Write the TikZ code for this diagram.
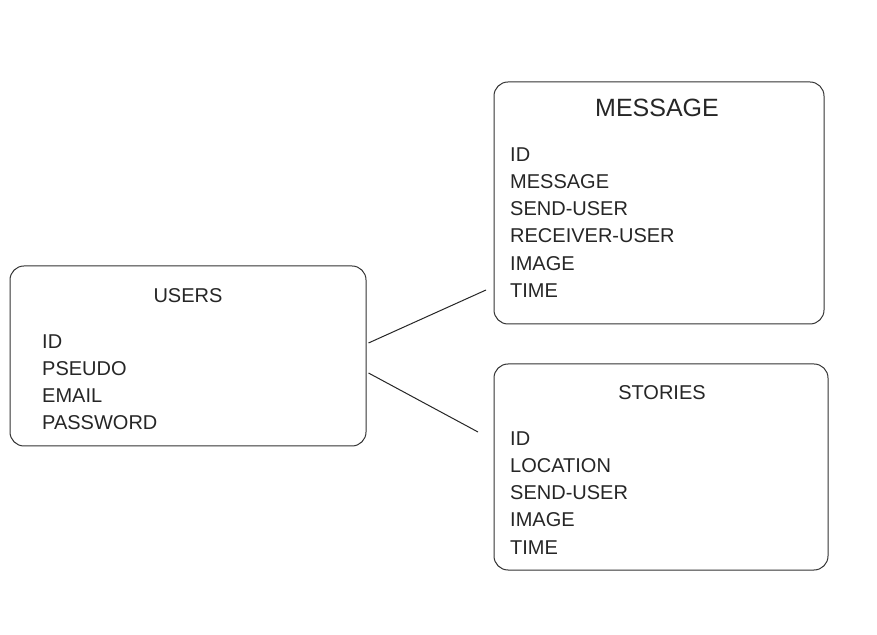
\documentclass[tikz,border=0pt]{standalone}
\usepackage{fontspec}
\setmainfont{Liberation Sans}
\begin{document}
\begin{tikzpicture}[x=1pt,y=1pt,
  entity/.style={draw=black!80, line width=1pt, rounded corners=14pt, fill=white},
  field/.style={anchor=west, inner sep=0pt, font=\fontsize{20}{20}\selectfont, text=black!85},
  title/.style={anchor=center, inner sep=0pt, font=\fontsize{20}{20}\selectfont, text=black!85},
  link/.style={draw=black!85, line width=1pt}]
\useasboundingbox (0,0) rectangle (877,634);
\fill[white] (0,0) rectangle (877,634);
% boxes
\node[entity, minimum width=356pt, minimum height=180pt] (users) at (188,278) {};
\node[entity, minimum width=330pt, minimum height=242pt] (message) at (659,431) {};
\node[entity, minimum width=334pt, minimum height=206pt] (stories) at (661,167) {};
% users
\node[title] (ut) at (188,338) {USERS};
\node[field] (u1) at (42,292) {ID};
\node[field] (u2) at (42,265) {PSEUDO};
\node[field] (u3) at (42,238) {EMAIL};
\node[field] (u4) at (42,211) {PASSWORD};
% message
\node[title, font=\fontsize{25}{25}\selectfont] (mt) at (657,526) {MESSAGE};
\node[field] (m1) at (510,479) {ID};
\node[field] (m2) at (510,452) {MESSAGE};
\node[field] (m3) at (510,425) {SEND-USER};
\node[field] (m4) at (510,398) {RECEIVER-USER};
\node[field] (m5) at (510,370) {IMAGE};
\node[field] (m6) at (510,343) {TIME};
% stories
\node[title] (st) at (662,241) {STORIES};
\node[field] (s1) at (510,195) {ID};
\node[field] (s2) at (510,168) {LOCATION};
\node[field] (s3) at (510,141) {SEND-USER};
\node[field] (s4) at (510,114) {IMAGE};
\node[field] (s5) at (510,86) {TIME};
% connectors
\coordinate (mend) at (486,344);
\coordinate (send) at (478,202);
\draw[link] ([xshift=2pt,yshift=13pt]users.east) -- (mend);
\draw[link] ([xshift=2pt,yshift=-17pt]users.east) -- (send);
\end{tikzpicture}
\end{document}
